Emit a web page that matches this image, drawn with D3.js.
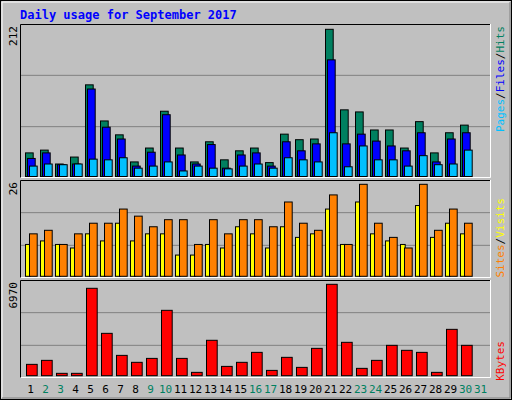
<!DOCTYPE html>
<html><head><meta charset="utf-8">
<script src="https://cdn.jsdelivr.net/npm/d3@7"></script>
<style>body{margin:0;background:#fff}</style></head>
<body><svg id="c" width="512" height="400"></svg>
<script>
const days = d3.range(1,32);
const weekend = [2,3,9,10,16,17,23,24,30,31];
const hits  = [34,38,18,28,132,80,60,21,41,94,41,21,50,24,37,41,20,61,53,54,212,96,93,67,67,41,79,34,63,74,0];
const files = [26,34,17,18,126,71,54,15,35,89,31,18,46,12,31,34,15,50,37,47,168,47,61,51,44,37,63,21,54,63,0];
const pages = [15,18,17,18,25,24,27,12,15,21,8,15,12,11,15,18,12,27,24,21,63,14,44,24,24,15,30,17,18,38,0];
const sites = [9,10,9,8,12,10,15,10,12,12,6,6,9,8,14,12,8,14,11,12,19,9,21,12,10,9,20,11,15,12,0];
const visits= [12,13,9,12,15,15,19,17,14,16,16,9,16,12,16,16,14,21,15,13,23,9,26,15,11,8,26,13,19,15,0];
const kbytes= [865,1170,180,180,6665,3230,1550,1020,1320,4985,1320,255,2700,710,1020,1780,405,1400,635,2085,6970,2545,560,1170,2315,1935,1780,255,3535,2315,0];

const svg = d3.select('#c');
const F = "'DejaVu Sans Mono', monospace";
svg.append('rect').attr('x',0.5).attr('y',0.5).attr('width',511).attr('height',399).attr('fill','#c0c0c0').attr('stroke','#000');
svg.append('path').attr('d','M2,398V2H510').attr('fill','none').attr('stroke','#fff');
svg.append('path').attr('d','M2,398H510V2').attr('fill','none').attr('stroke','#808080');
svg.append('text').attr('x',20).attr('y',19).text('Daily usage for September 2017')
  .attr('font-family',F).attr('font-weight','bold').attr('font-size',12).attr('fill','#0000ff');

const x = d3.scaleLinear().domain([1,31]).range([25,475]);

function panel(y0,y1){
  svg.append('rect').attr('x',20).attr('y',y0).attr('width',471).attr('height',y1-y0).attr('fill','#c0c0c0');
  svg.append('path').attr('d',`M20.5,${y1}V${y0+0.5}H491`).attr('fill','none').attr('stroke','#000');
  svg.append('path').attr('d',`M20.5,${y1-0.5}H490.5V${y0}`).attr('fill','none').attr('stroke','#fff');
  const h=(y1-y0)/3;
  [1,2].forEach(i=>svg.append('line').attr('x1',21).attr('x2',490).attr('y1',y0+h*i).attr('y2',y0+h*i).attr('stroke','#808080').attr('stroke-width',1));
}
function bars(data,max,base,top,off,w,color){
  const y=d3.scaleLinear().domain([0,max]).range([base,top]);
  svg.append('g').selectAll('rect').data(data).join('rect')
    .attr('x',(d,i)=>x(days[i])+off+0.5).attr('y',d=>y(d)).attr('width',w).attr('height',d=>Math.max(0,base-y(d)))
    .attr('fill',color).attr('stroke','#000').attr('stroke-width',1)
    .attr('display',d=>d>0?null:'none');
}
function rot(txt,xp,yp,color,anchor){
  svg.append('text').attr('transform',`translate(${xp},${yp}) rotate(-90)`).attr('text-anchor',anchor||'end')
    .attr('font-family',F).attr('font-size',11).attr('fill',color).text(txt);
}
panel(24,178); panel(180,278); panel(280,378);
bars(hits,212,176.5,29.3,0,7.7,'#008060');
bars(files,212,176.5,29.3,2,7.7,'#0000ff');
bars(pages,212,176.5,29.3,4,7.7,'#00c0ff');
bars(sites,26,276.3,184.3,0,4.7,'#ffff00');
bars(visits,26,276.3,184.3,4,7.7,'#ff8000');
bars(kbytes,6970,375.7,284.3,1,10.7,'#ff0000');

rot('212',17,26,'#000','end');
rot('26',17,182,'#000','end');
rot('6970',17,282,'#000','end');
// right labels
const lab1=svg.append('text').attr('transform','translate(504,26) rotate(-90)').attr('text-anchor','end').attr('font-family',F).attr('font-size',11);
lab1.append('tspan').attr('fill','#00c0ff').text('Pages');
lab1.append('tspan').attr('fill','#000').text('/');
lab1.append('tspan').attr('fill','#0000ff').text('Files');
lab1.append('tspan').attr('fill','#000').text('/');
lab1.append('tspan').attr('fill','#008060').text('Hits');
const lab2=svg.append('text').attr('transform','translate(504,198) rotate(-90)').attr('text-anchor','end').attr('font-family',F).attr('font-size',11);
lab2.append('tspan').attr('fill','#ff8000').text('Sites');
lab2.append('tspan').attr('fill','#000').text('/');
lab2.append('tspan').attr('fill','#ffff00').text('Visits');
rot('KBytes',504,341,'#ff0000','end');

svg.append('g').selectAll('text').data(days).join('text')
  .attr('x',d=>x(d)+5.5).attr('y',393).attr('text-anchor','middle')
  .attr('font-family',F).attr('font-size',11)
  .attr('fill',d=>weekend.includes(d)?'#008060':'#000').text(d=>d);
</script></body></html>
